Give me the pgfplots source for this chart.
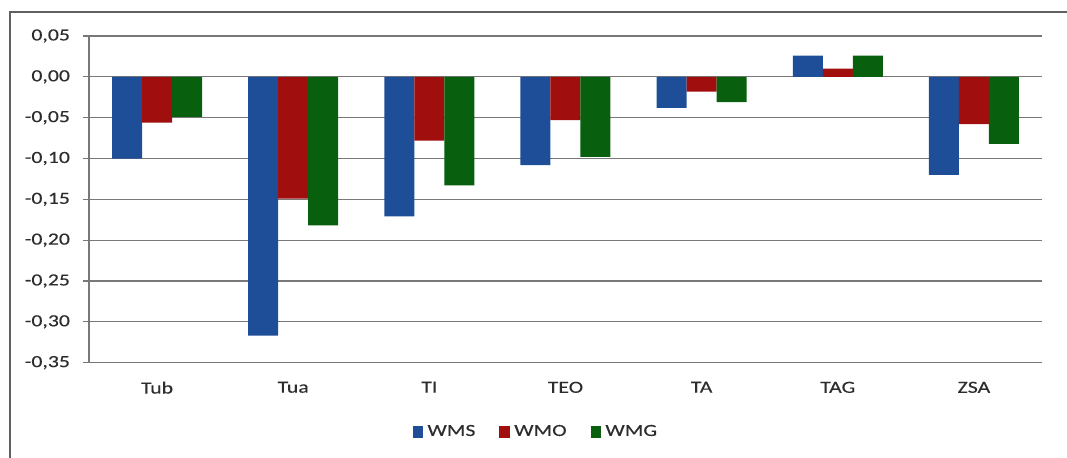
\documentclass[border=0pt]{standalone}
\usepackage{pgfplots}
\pgfplotsset{compat=1.18}
\usepackage{fontspec}
\setmainfont{Carlito}[FakeStretch=1.28, FakeBold=0.3]
\definecolor{cblue}{RGB}{30,78,152}
\definecolor{cred}{RGB}{160,14,14}
\definecolor{cgreen}{RGB}{8,96,14}
\definecolor{cgrid}{RGB}{120,120,120}
\definecolor{ctext}{RGB}{45,45,45}
\begin{document}
\begin{tikzpicture}
\useasboundingbox (-44.5pt,-47.65pt) rectangle (489pt,181.35pt);
\draw[color=cgrid!80!black, line width=0.8pt] (-39.5pt,-60pt) -- (-39.5pt,175.35pt) -- (500pt,175.35pt);
\begin{axis}[
  at={(0,0)}, anchor=south west,
  scale only axis,
  width=476.5pt, height=163.35pt,
  ybar=0pt, bar width=15pt,
  xmin=-0.5, xmax=6.5,
  ymin=-0.35, ymax=0.05,
  ytick={-0.35,-0.3,...,0.051},
  xtick=data,
  xticklabels={Tub,Tua,TI,TEO,TA,TAG,ZSA},
  axis x line*=bottom, axis y line*=left,
  axis line style={cgrid, line width=0.6pt},
  ymajorgrids, grid style={cgrid, line width=0.6pt},
  major tick style={cgrid, line width=0.6pt},
  y tick style={cgrid}, tick align=outside,
  major tick length=3pt,
  x tick style={draw=none},
  font=\fontsize{8.5}{10}\selectfont,
  tick label style={text=ctext},
  /pgf/number format/.cd, fixed, fixed zerofill, precision=2, use comma, assume math mode=true,
  /pgfplots/.cd,
  xticklabel style={yshift=-3pt},
  yticklabel style={xshift=-3pt},
  legend style={at={(0.47,-0.212)}, anchor=center, draw=none, fill=none,
    legend columns=3, font=\fontsize{8.5}{10}\selectfont, text=ctext,
    /tikz/every even column/.append style={column sep=10pt}},
  legend image code/.code={\fill[#1] (0pt,-2.8pt) rectangle (5.4pt,2.8pt);},
]
\addplot[fill=cblue, draw=none] coordinates {(0,-0.100) (1,-0.317) (2,-0.171) (3,-0.108) (4,-0.038) (5,0.026) (6,-0.120)};
\addplot[fill=cred, draw=none] coordinates {(0,-0.056) (1,-0.149) (2,-0.078) (3,-0.053) (4,-0.018) (5,0.010) (6,-0.058)};
\addplot[fill=cgreen, draw=none] coordinates {(0,-0.049) (1,-0.182) (2,-0.133) (3,-0.098) (4,-0.031) (5,0.026) (6,-0.082)};
\legend{WMS,WMO,WMG}
\end{axis}
\end{tikzpicture}
\end{document}
